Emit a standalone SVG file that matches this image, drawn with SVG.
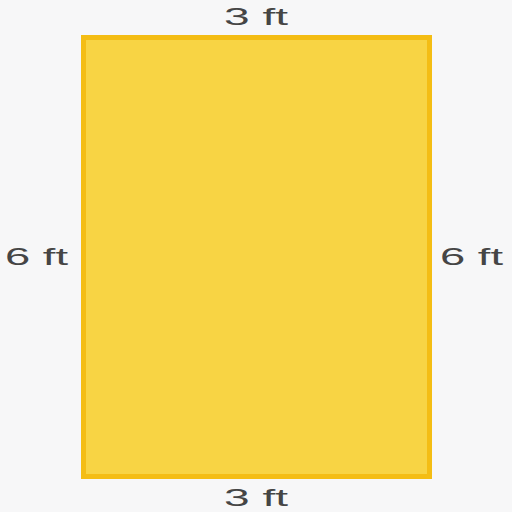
<svg xmlns="http://www.w3.org/2000/svg" width="512" height="512" viewBox="0 0 512 512">
<style>
.lbl{font-family:"Liberation Sans",Arial,sans-serif;font-size:24px;fill:#454545}
</style>
<rect x="0" y="0" width="512" height="512" fill="#f7f7f8"/>
<g id="rect">
<rect x="83.5" y="37.5" width="346" height="439" fill="#f8d444" stroke="#f4bd14" stroke-width="5"/>
</g>
<g id="labels">
<text class="lbl" x="224" y="25" textLength="64" lengthAdjust="spacingAndGlyphs">3 ft</text>
<text class="lbl" x="224" y="506" textLength="64" lengthAdjust="spacingAndGlyphs">3 ft</text>
<text class="lbl" x="5" y="265" textLength="63" lengthAdjust="spacingAndGlyphs">6 ft</text>
<text class="lbl" x="440" y="265" textLength="63" lengthAdjust="spacingAndGlyphs">6 ft</text>
</g>
</svg>
